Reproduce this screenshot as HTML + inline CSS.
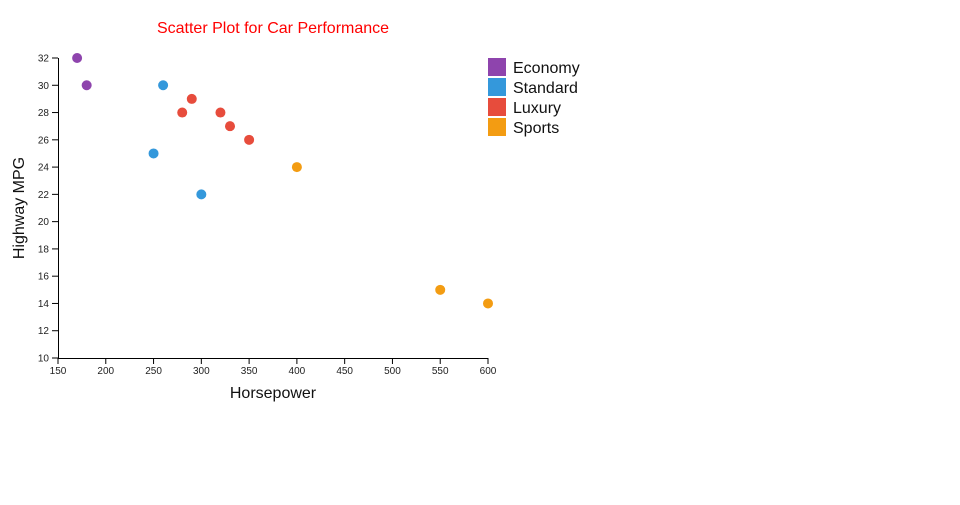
<!DOCTYPE html>
<html><head><meta charset="utf-8"><style>
body{margin:0;background:#fff;width:960px;height:500px;overflow:hidden}
svg{font-family:"Liberation Sans",sans-serif}
</style></head><body>
<svg id="s" width="960" height="500" xmlns="http://www.w3.org/2000/svg">
<text x="273" y="33" text-anchor="middle" fill="#ff0000" font-size="16">Scatter Plot for Car Performance</text>
<g id="ax" stroke="#000" stroke-width="1" fill="none"></g>
<g id="lbl" font-size="10" fill="#222"></g>
<g id="pts"></g>
<text x="273" y="398" text-anchor="middle" font-size="16" fill="#111">Horsepower</text>
<text transform="translate(24,208) rotate(-90)" text-anchor="middle" font-size="16" fill="#111">Highway MPG</text>
<g font-size="16" fill="#111">
<rect x="488" y="58" width="18" height="18" fill="#8e44ad"/><text x="513" y="73">Economy</text>
<rect x="488" y="78" width="18" height="18" fill="#3498db"/><text x="513" y="93">Standard</text>
<rect x="488" y="98" width="18" height="18" fill="#e74c3c"/><text x="513" y="113">Luxury</text>
<rect x="488" y="118" width="18" height="18" fill="#f39c12"/><text x="513" y="133">Sports</text>
</g>
</svg>
<script>
var NS="http://www.w3.org/2000/svg";
function X(v){return 58+(v-150)*430/450}
function Y(v){return 358-(v-10)*300/22}
function el(p,t,a,txt){var e=document.createElementNS(NS,t);for(var k in a)e.setAttribute(k,a[k]);if(txt!=null)e.textContent=txt;document.getElementById(p).appendChild(e);}
el("ax","path",{d:"M58.5,58V358.5H488"});
for(var v=150;v<=600;v+=50){var x=X(v);el("ax","line",{x1:x,x2:x,y1:358,y2:364});el("lbl","text",{x:x,y:374,"text-anchor":"middle"},v);}
for(var v=10;v<=32;v+=2){var y=Y(v);el("ax","line",{x1:52,x2:58,y1:y,y2:y});el("lbl","text",{x:49,y:y+3.5,"text-anchor":"end"},v);}
var d=[["#8e44ad",[[170,32],[180,30]]],["#3498db",[[260,30],[250,25],[300,22]]],["#e74c3c",[[280,28],[290,29],[320,28],[330,27],[350,26]]],["#f39c12",[[400,24],[550,15],[600,14]]]];
d.forEach(function(s){s[1].forEach(function(p){el("pts","circle",{cx:X(p[0]),cy:Y(p[1]),r:5,fill:s[0]});});});
</script>
</body></html>
